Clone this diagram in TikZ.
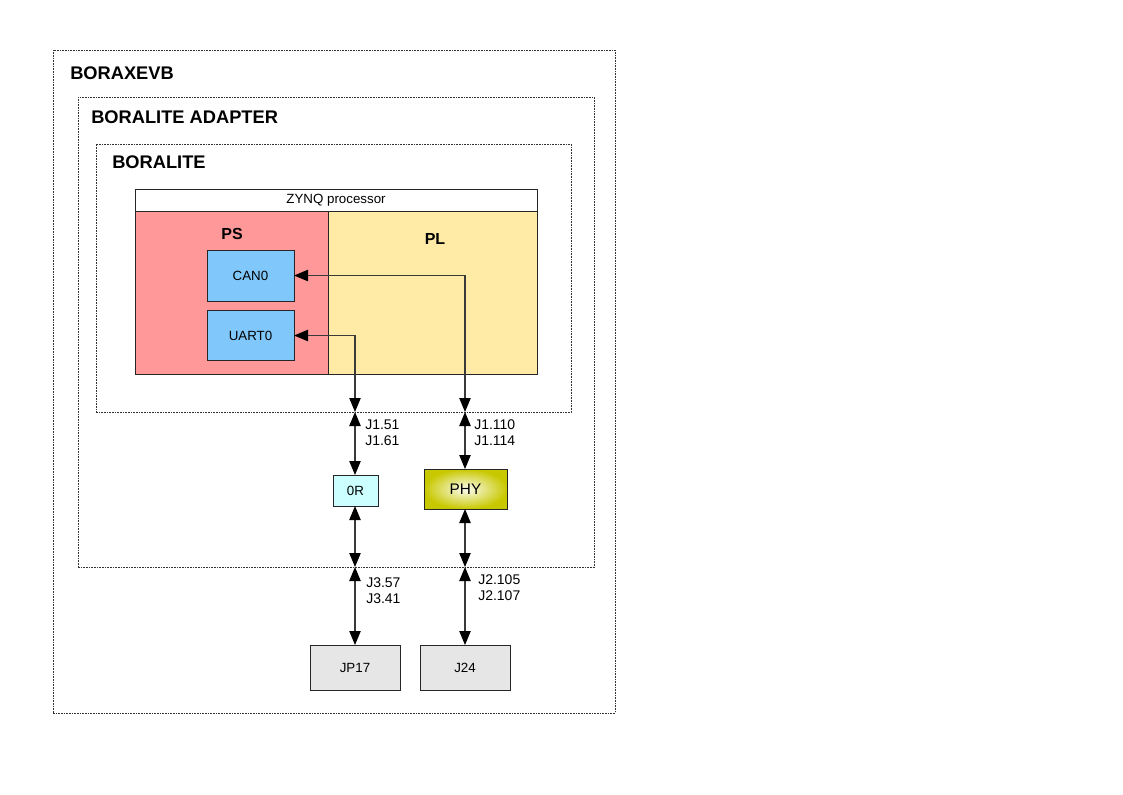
\documentclass[tikz,border=0pt]{standalone}
\usepackage{fontspec}
\setmainfont{Liberation Sans}
\usetikzlibrary{arrows.meta}
\definecolor{psred}{HTML}{FF9999}
\definecolor{plyel}{HTML}{FFEAA6}
\definecolor{blk}{HTML}{80C8FC}
\definecolor{cyanl}{HTML}{CCFFFF}
\definecolor{grayb}{HTML}{E6E6E6}
\definecolor{olive}{HTML}{C8C800}
\definecolor{linec}{HTML}{3A3A3A}
\tikzset{
  frame/.style={draw=black!80, line width=0.6pt, dash pattern=on 1.2pt off 0.8pt, inner sep=0pt, outer sep=0pt},
  blockbox/.style={draw=black!85, line width=0.75pt, inner sep=0pt, outer sep=0pt, font=\fontsize{10}{12}\selectfont},
  title/.style={font=\bfseries\fontsize{13.7}{15}\selectfont, anchor=west, inner sep=0pt},
  subtitle/.style={font=\bfseries\fontsize{12}{14}\selectfont, inner sep=0pt},
  pinlabel/.style={font=\fontsize{10.5}{11.8}\selectfont, align=left, anchor=west, inner sep=0pt},
  conn/.style={draw=linec, line width=0.9pt, {Triangle[length=10.5pt,width=8.5pt,color=black]}-{Triangle[length=10.5pt,width=8.5pt,color=black]}}
}
\begin{document}
\begin{tikzpicture}[x=0.75pt,y=-0.75pt]
\useasboundingbox[fill=white] (0,0) rectangle (1123,794);
% frames
\node[frame, minimum width=421.5pt, minimum height=497.25pt] (evb) at (334,381.5) {};
\node[frame, minimum width=387pt, minimum height=352.5pt] (adapter) at (336,332) {};
\node[frame, minimum width=356.25pt, minimum height=201pt] (boralite) at (333.5,278) {};
\node[title] (tevb) at (70,73) {BORAXEVB};
\node[title] (tadapter) at (91,117) {BORALITE ADAPTER};
\node[title] (tboralite) at (112,162) {BORALITE};
% zynq
\node[blockbox, fill=white, minimum width=301.5pt, minimum height=16.5pt] (zynq) at (336,200) {ZYNQ processor};
\node[blockbox, fill=psred, minimum width=144.75pt, minimum height=122.25pt] (ps) at (231.5,292.5) {};
\node[blockbox, fill=plyel, minimum width=156.75pt, minimum height=122.25pt] (pl) at (432.5,292.5) {};
\node[subtitle] (tps) at (232,234) {PS};
\node[subtitle] (tpl) at (435,239) {PL};
\node[blockbox, fill=blk, minimum width=65.25pt, minimum height=38.25pt] (can0) at (250.5,275.5) {CAN0};
\node[blockbox, fill=blk, minimum width=65.25pt, minimum height=37.5pt] (uart0) at (250.5,335.5) {UART0};
% lower blocks
\node[blockbox, fill=cyanl, minimum width=33.75pt, minimum height=23.25pt] (r0) at (355.5,490.5) {0R};
\node[blockbox, shading=radial, inner color=olive!5, outer color=olive, minimum width=62.25pt, minimum height=30pt, font=\fontsize{11.5}{13}\selectfont] (phy) at (465.5,489) {PHY};
\node[blockbox, fill=grayb, minimum width=67.5pt, minimum height=33.75pt] (jp17) at (355,667.5) {JP17};
\node[blockbox, fill=grayb, minimum width=67.5pt, minimum height=33.75pt] (j24) at (465,667.5) {J24};
% boundary coordinates
\coordinate (uA) at (355,412);
\coordinate (cA) at (465,412);
\coordinate (uB) at (355,567);
\coordinate (cB) at (465,567);
% connectors
\draw[conn] (uA) |- (uart0.east);
\draw[conn] (cA) |- (can0.east);
\draw[conn] (uA) -- (uA |- r0.north);
\draw[conn] (r0.south -| uA) -- (uB);
\draw[conn] (uB) -- (uB |- jp17.north);
\draw[conn] (cA) -- (cA |- phy.north);
\draw[conn] (phy.south -| cA) -- (cB);
\draw[conn] (cB) -- (cB |- j24.north);
% pin labels
\node[pinlabel] (l1) at (365,433) {J1.51\\J1.61};
\node[pinlabel] (l2) at (474,433) {J1.110\\J1.114};
\node[pinlabel] (l3) at (366,591) {J3.57\\J3.41};
\node[pinlabel] (l4) at (478,588) {J2.105\\J2.107};
\end{tikzpicture}
\end{document}
